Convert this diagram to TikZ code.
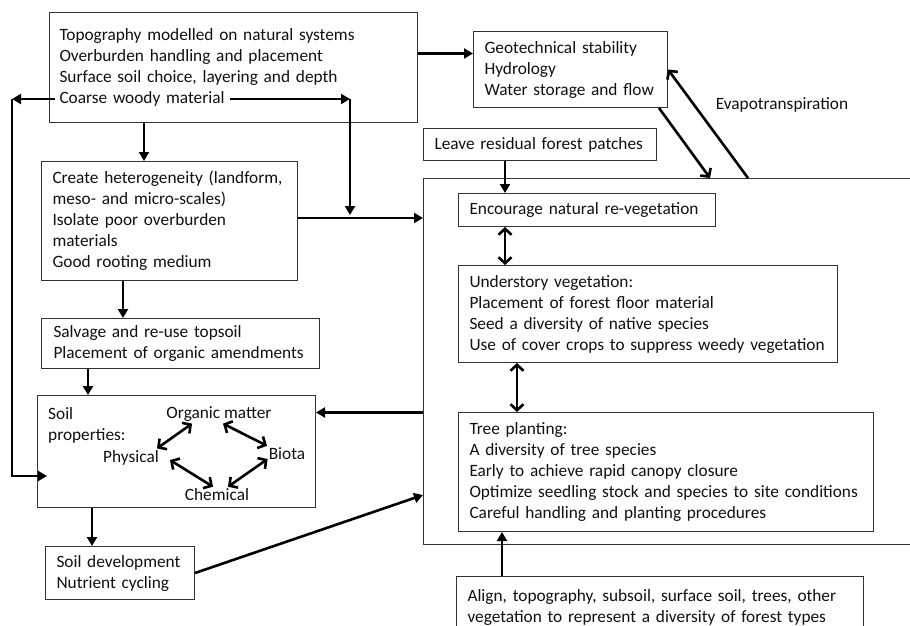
\documentclass[tikz,border=0pt]{standalone}
\usepackage{fontspec}
\setmainfont{Carlito}
\usetikzlibrary{arrows.meta,calc}
\definecolor{boxc}{HTML}{333333}
\definecolor{txt}{HTML}{111111}
\tikzset{
  box/.style={draw=boxc, line width=1pt, anchor=north west, align=left,
    inner xsep=10pt, inner ysep=0pt, text=txt, font=\fontsize{17.3}{21}\selectfont},
  lbl/.style={inner sep=0pt, text=txt, font=\fontsize{17.3}{21}\selectfont},
  arr/.style={line width=2.6pt, -{Triangle[length=9pt,width=10pt]}},
  barb/.style={line width=2.6pt, -{Straight Barb[length=6pt,width=13pt,line width=2.6pt]}},
  darr/.style={line width=2.6pt, {Straight Barb[length=6pt,width=13pt,line width=2.6pt]}-{Straight Barb[length=6pt,width=13pt,line width=2.6pt]}}
}
\begin{document}
\begin{tikzpicture}[x=1pt,y=-1pt]
\useasboundingbox (0,0) rectangle (910,626);
\clip (0,0) rectangle (910,626);
\fill[white] (0,0) rectangle (910,626);

% big container
\node[draw=boxc, line width=1pt, anchor=north west, minimum width=520pt, minimum height=366pt, inner sep=0pt] (big) at (423,178) {};

% boxes
\node[box, text width=348pt, minimum height=110pt] (A) at (49,12)
 {Topography modelled on natural systems\\Overburden handling and placement\\Surface soil choice, layering and depth\\Coarse woody material};
\node[box, inner xsep=11pt, text width=172pt, minimum height=76pt] (G) at (473,31)
 {Geotechnical stability\\Hydrology\\Water storage and flow};
\node[box, inner xsep=11pt, text width=211pt, minimum height=32pt] (L) at (423,128)
 {Leave residual forest patches};
\node[box, inner xsep=11pt, text width=234pt, minimum height=119pt] (B) at (41,161)
 {Create heterogeneity (landform,\\meso- and micro-scales)\\Isolate poor overburden\\materials\\Good rooting medium};
\node[box, inner xsep=12pt, text width=254pt, minimum height=50pt] (C) at (41,318)
 {Salvage and re-use topsoil\\Placement of organic amendments};
\node[box, text width=258pt, minimum height=112pt] (D) at (37,395) {};
\node[box, inner xsep=11pt, text width=127pt, minimum height=53pt] (E) at (45,546)
 {Soil development\\Nutrient cycling};
\node[box, inner xsep=11pt, text width=235pt, minimum height=33pt] (Enc) at (458,193)
 {Encourage natural re-vegetation};
\node[box, inner xsep=11pt, text width=357pt, minimum height=97pt] (Und) at (458,265)
 {Understory vegetation:\\Placement of forest floor material\\Seed a diversity of native species\\Use of cover crops to suppress weedy vegetation};
\node[box, inner xsep=11pt, text width=393pt, minimum height=119pt] (Tree) at (458,412)
 {Tree planting:\\A diversity of tree species\\Early to achieve rapid canopy closure\\Optimize seedling stock and species to site conditions\\Careful handling and planting procedures};
\node[box, inner xsep=11pt, text width=385pt, minimum height=62pt] (Align) at (456,576)
 {Align, topography, subsoil, surface soil, trees, other\\vegetation to represent a diversity of forest types};

% soil properties content
\node[lbl, anchor=north west, align=left] (sp) at ([xshift=11pt,yshift=-12pt]D.north west) {Soil\\properties:};
\node[lbl] (om) at (219,414) {Organic matter};
\node[lbl] (phys) at (131,458) {Physical};
\node[lbl] (biota) at (287,454) {Biota};
\node[lbl] (chem) at (217,495) {Chemical};
\draw[darr] ([xshift=-27pt,yshift=-2pt]om.south) -- ([xshift=26pt,yshift=2pt]phys.north);
\draw[darr] ([xshift=4pt,yshift=-2pt]om.south) -- ([xshift=-20pt,yshift=2pt]biota.north);
\draw[darr] ([xshift=11pt,yshift=-2pt]phys.east) -- ([xshift=-4pt,yshift=2pt]chem.north);
\draw[darr] ([xshift=11pt,yshift=2pt]chem.north) -- ([xshift=-1pt,yshift=-5pt]biota.west);

\node[lbl] (evap) at (782,105) {Evapotranspiration};

% connectors left column
\draw[arr] ([xshift=95pt]A.south west) -- ([xshift=95pt]A.south west |- B.north);
\draw[arr] ([xshift=82pt]B.south west) -- ([xshift=82pt]B.south west |- C.north);
\draw[arr] ([xshift=47pt]C.south west) -- ([xshift=47pt]C.south west |- D.north);
\draw[arr] ([xshift=55pt]D.south west) -- ([xshift=55pt]D.south west |- E.north);

% coarse woody material arrows
\coordinate (cwl) at ([xshift=6pt,yshift=24pt]A.south west);
\coordinate (lc) at ([xshift=-25pt]D.west);
\coordinate (dt) at ([xshift=10pt,yshift=32pt]D.south west);
\draw[arr] (cwl) -- (cwl -| lc);
\draw[arr] (cwl -| lc) -- (lc |- dt) -- (dt);
\coordinate (cwr) at ([xshift=181pt,yshift=24pt]A.south west);
\coordinate (rc) at ([xshift=301pt]A.south west);
\coordinate (bl) at ([yshift=3pt]B.east);
\draw[arr] (cwr) -- (cwr -| rc);
\draw[arr] (cwr -| rc) -- ([yshift=3pt]rc |- bl);
\draw[arr] (bl) -- (bl -| big.west);

% A to G
\draw[arr] ([yshift=14pt]A.east) -- ([yshift=14pt]A.east -| G.west);
% G <-> big
\draw[barb] ([xshift=-9pt]G.south east) -- ([xshift=287pt]big.north west);
\draw[barb] ([xshift=325pt]big.north west) -- (G.east);

% big to D, E to big
\draw[arr] ([yshift=39pt]D.east -| big.west) -- ([yshift=39pt]D.east);
\draw[arr] (E.east) -- ([yshift=50pt]big.south west);

% right column
\draw[arr] ([xshift=82pt]L.south west) -- ([xshift=82pt]L.south west |- Enc.north);
\draw[darr] ([xshift=47pt]Enc.south west) -- ([xshift=47pt]Enc.south west |- Und.north);
\draw[darr] ([xshift=59pt]Und.south west) -- ([xshift=59pt]Und.south west |- Tree.north);
\draw[arr] ([xshift=46pt]Align.north west) -- ([xshift=46pt]Align.north west |- Tree.south);
\end{tikzpicture}
\end{document}
